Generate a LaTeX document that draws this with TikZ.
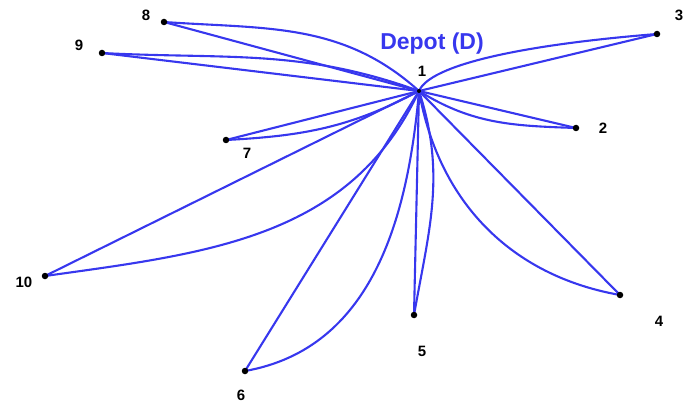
\documentclass[tikz,border=0pt]{standalone}
\usepackage{fontspec}
\setmainfont{Liberation Sans}
\definecolor{routeblue}{RGB}{55,55,238}
\begin{document}
\begin{tikzpicture}[x=1pt,y=1pt,
  stop/.style={circle,fill=black,inner sep=0pt,minimum size=6.5pt},
  depotdot/.style={circle,fill=black,inner sep=0pt,minimum size=4pt},
  lbl/.style={font=\fontsize{15}{15}\selectfont\bfseries,text=black},
  route/.style={draw=routeblue,line width=2.1pt}]
\useasboundingbox (0,0) rectangle (687,-403);
\coordinate (c1) at (419,-91);
\coordinate (c2) at (576,-128);
\coordinate (c3) at (657,-34);
\coordinate (c4) at (620,-295);
\coordinate (c5) at (414,-315);
\coordinate (c6) at (245,-371);
\coordinate (c7) at (226,-140);
\coordinate (c8) at (164,-22);
\coordinate (c9) at (102,-53);
\coordinate (c10) at (45,-276);
% straight legs
\foreach \k in {2,...,10} \draw[route] (c1) -- (c\k);
% curved legs
\draw[route] (c1) to[out=138,in=-4] (c8);
\draw[route] (c1) to[out=160,in=-3] (c9);
\draw[route] (c1) .. controls +(11,26) and +(-137,-11) .. (c3);
\draw[route] (c1) to[out=208,in=3] (c7);
\draw[route] (c1) to[out=-32,in=178] (c2);
\draw[route] (c1) to[out=245,in=8] (c10);
\draw[route] (c1) to[out=-80,in=170] (c4);
\draw[route] (c1) to[out=-72,in=80] (c5);
\draw[route] (c1) to[out=-95,in=10] (c6);
% dots
\node[depotdot] (n1) at (c1) {};
\foreach \k in {2,...,10} \node[stop] (n\k) at (c\k) {};
% labels
\node[lbl] (l1) at (422,-71) {1};
\node[lbl] (l2) at (603,-128) {2};
\node[lbl] (l3) at (679,-15) {3};
\node[lbl] (l4) at (659,-321) {4};
\node[lbl] (l5) at (422,-351) {5};
\node[lbl] (l6) at (241,-395) {6};
\node[lbl] (l7) at (247,-153) {7};
\node[lbl] (l8) at (146,-15) {8};
\node[lbl] (l9) at (79,-45) {9};
\node[lbl] (l10) at (24,-282) {10};
\node[font=\fontsize{23}{23}\selectfont\bfseries,text=routeblue] (dep) at (432,-44) {Depot (D)};
\end{tikzpicture}
\end{document}
